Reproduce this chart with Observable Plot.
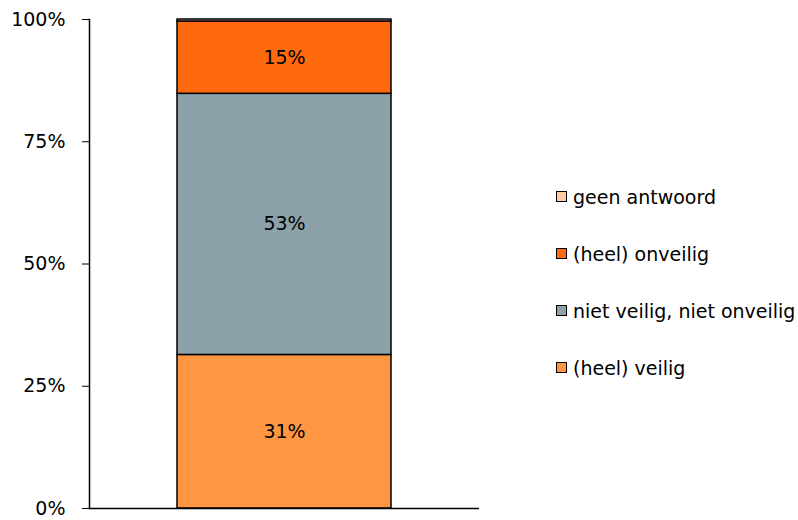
<!DOCTYPE html>
<html>
<head>
<meta charset="utf-8">
<script src="https://cdn.jsdelivr.net/npm/d3@7"></script>
<script src="https://cdn.jsdelivr.net/npm/@observablehq/plot@0.6"></script>
<style>
  body { margin: 0; background: #fff; }
  #wrap { position: relative; width: 798px; height: 520px; font-family: "DejaVu Sans", Verdana, sans-serif; }
  #chart { position: absolute; left: 0; top: 0; }
  #legend { position: absolute; left: 556px; top: 168px; }
  .item { height: 57px; display: flex; align-items: center; font-size: 19px; color: #000; white-space: nowrap; }
  .sw { width: 9px; height: 9px; border: 1px solid #000; margin-right: 6px; flex: none; }
</style>
</head>
<body>
<div id="wrap"><div id="chart"></div><div id="legend"></div></div>
<script>
// Data
const categories = ["(heel) veilig", "niet veilig, niet onveilig", "(heel) onveilig", "geen antwoord"];
const values = [31.4, 53.4, 14.8, 0.4];
const labels = ["31%", "53%", "15%", ""];
const colors = ["#FF9643", "#8DA1AB", "#FF6A0E", "#FFCBA5"];
const legendOrder = ["geen antwoord", "(heel) onveilig", "niet veilig, niet onveilig", "(heel) veilig"];
const yTicks = [0, 25, 50, 75, 100];

const data = categories.map((c, i) => ({bar: "", cat: c, value: values[i], label: labels[i]}));

const plot = Plot.plot({
  width: 500,
  height: 520,
  marginLeft: 89,
  marginRight: 21,
  marginTop: 19,
  marginBottom: 12,
  style: {fontFamily: "DejaVu Sans, Verdana, sans-serif", fontSize: "19px", color: "#000", background: "#fff"},
  x: {domain: [""], padding: 0.29, axis: null},
  y: {domain: [0, 100], ticks: yTicks, tickFormat: d => d + "%", tickSize: 7, tickPadding: 17, label: null},
  color: {domain: categories, range: colors},
  marks: [
    Plot.barY(data, {x: "bar", y: "value", fill: "cat", stroke: "#000", strokeWidth: 1.5, inset: 0}),
    Plot.text(data, Plot.stackY({x: "bar", y: "value", text: "label", fill: "#000", fontSize: 19})),
    Plot.ruleY([0], {stroke: "#000", strokeWidth: 1.5}),
    Plot.frame({anchor: "left", stroke: "#000", strokeWidth: 1.5})
  ]
});
document.getElementById("chart").appendChild(plot);

const legend = document.getElementById("legend");
legendOrder.forEach(name => {
  const item = document.createElement("div");
  item.className = "item";
  const sw = document.createElement("span");
  sw.className = "sw";
  sw.style.background = colors[categories.indexOf(name)];
  item.appendChild(sw);
  item.appendChild(document.createTextNode(name));
  legend.appendChild(item);
});
</script>
</body>
</html>
